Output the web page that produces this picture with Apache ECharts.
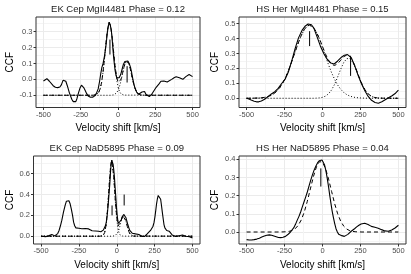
<!DOCTYPE html>
<html><head><meta charset="utf-8">
<script src="https://cdn.jsdelivr.net/npm/echarts@6/dist/echarts.min.js"></script>
<style>html,body{margin:0;padding:0;background:#fff}#c{width:411px;height:274px}</style>
</head><body><div id="c"></div>
<script>
// ---------- DATA ----------
const panelTitles = ["EK Cep MgII4481 Phase = 0.12","HS Her MgII4481 Phase = 0.15","EK Cep NaD5895 Phase = 0.09","HS Her NaD5895 Phase = 0.04"];
const xTitle = "Velocity shift [km/s]";
const yTitle = "CCF";
const velocityTicks = [-500,-250,0,250,500];
const velocityMinor = [-375,-125,125,375];
const yTicks1 = [-0.1,0.0,0.1,0.2,0.3];
const yMinor1 = [-0.15,-0.05,0.05,0.15,0.25,0.35];
const yTicks2 = [0.0,0.1,0.2,0.3,0.4,0.5];
const yMinor2 = [-0.05,0.05,0.15,0.25,0.35,0.45];
const yTicks3 = [0.0,0.2,0.4,0.6];
const yMinor3 = [0.1,0.3,0.5,0.7];
const yTicks4 = [0.0,0.1,0.2,0.3,0.4];
const yMinor4 = [-0.05,0.05,0.15,0.25,0.35];

// Panel 1: EK Cep MgII4481
const ekMgObserved = [[-500,-0.01],[-490,0.0],[-477,0.004],[-460,-0.012],[-450,-0.022],[-435,-0.04],[-420,-0.05],[-405,-0.052],[-390,-0.048],[-380,-0.035],[-368,-0.005],[-360,0.0],[-350,-0.012],[-340,-0.04],[-326,-0.085],[-310,-0.125],[-300,-0.14],[-292,-0.148],[-283,-0.14],[-275,-0.12],[-265,-0.085],[-255,-0.055],[-245,-0.037],[-238,-0.04],[-230,-0.052],[-220,-0.07],[-210,-0.09],[-200,-0.105],[-185,-0.113],[-170,-0.112],[-156,-0.104],[-145,-0.088],[-133,-0.06],[-124,-0.015],[-115,0.04],[-108,0.075],[-100,0.10],[-90,0.15],[-81,0.21],[-72,0.29],[-65,0.335],[-59,0.36],[-53,0.345],[-45,0.31],[-38,0.24],[-32,0.167],[-26,0.11],[-20,0.06],[-14,0.03],[-8,0.01],[0,0.004],[8,0.01],[18,0.03],[28,0.065],[36,0.094],[46,0.112],[56,0.12],[66,0.115],[75,0.1],[84,0.075],[92,0.04],[100,0.0],[108,-0.035],[115,-0.058],[125,-0.08],[138,-0.094],[150,-0.09],[161,-0.08],[170,-0.074],[178,-0.076],[188,-0.095],[198,-0.106],[210,-0.108],[225,-0.095],[240,-0.073],[256,-0.05],[274,-0.03],[288,-0.012],[296,-0.006],[308,-0.01],[319,-0.02],[330,-0.017],[342,-0.01],[360,0.0],[376,0.01],[390,0.016],[400,0.016],[412,0.01],[425,0.002],[435,0.0],[445,0.008],[455,0.017],[467,0.026],[477,0.03],[490,0.026],[500,0.017]];
const ekMgFitTotal = [[-500,-0.1],[-170,-0.1],[-160,-0.099],[-150,-0.098],[-140,-0.094],[-130,-0.083],[-120,-0.061],[-110,-0.019],[-100,0.048],[-90,0.137],[-80,0.234],[-70,0.315],[-60,0.356],[-50,0.337],[-40,0.271],[-30,0.178],[-20,0.087],[-10,0.020],[0,-0.017],[10,-0.021],[20,-0.001],[30,0.036],[40,0.077],[50,0.108],[60,0.12],[70,0.108],[80,0.076],[90,0.033],[100,-0.01],[110,-0.045],[120,-0.07],[130,-0.086],[140,-0.094],[150,-0.098],[160,-0.099],[170,-0.1],[500,-0.1]];
const ekMgComp1 = [[-500,-0.1],[-170,-0.1],[-160,-0.099],[-150,-0.098],[-140,-0.094],[-130,-0.083],[-120,-0.061],[-110,-0.019],[-100,0.048],[-90,0.137],[-80,0.234],[-70,0.315],[-60,0.356],[-50,0.337],[-40,0.27],[-30,0.176],[-20,0.081],[-10,0.005],[0,-0.047],[10,-0.076],[20,-0.091],[30,-0.097],[40,-0.099],[50,-0.1],[500,-0.1]];
const ekMgComp2 = [[-500,-0.1],[-50,-0.1],[-40,-0.099],[-30,-0.098],[-20,-0.094],[-10,-0.086],[0,-0.07],[10,-0.045],[20,-0.01],[30,0.033],[40,0.076],[50,0.108],[60,0.12],[70,0.108],[80,0.076],[90,0.033],[100,-0.01],[110,-0.045],[120,-0.07],[130,-0.086],[140,-0.094],[150,-0.098],[160,-0.099],[170,-0.1],[500,-0.1]];
const ekMgMarkers = [[[-54,0.156],[-54,0.25]],[[61,-0.02],[61,0.083]]];

// Panel 2: HS Her MgII4481
const hsMgObserved = [[-500,0.0],[-485,-0.005],[-470,-0.012],[-450,-0.02],[-435,-0.024],[-420,-0.024],[-403,-0.018],[-381,-0.007],[-359,0.011],[-337,0.029],[-314,0.044],[-292,0.066],[-269,0.099],[-247,0.126],[-225,0.176],[-202,0.253],[-180,0.335],[-158,0.405],[-135,0.455],[-113,0.485],[-95,0.498],[-85,0.5],[-73,0.493],[-57,0.47],[-35,0.41],[-12,0.345],[10,0.297],[32,0.26],[55,0.236],[77,0.23],[100,0.25],[122,0.273],[144,0.289],[165,0.293],[189,0.273],[211,0.222],[234,0.155],[256,0.099],[279,0.051],[301,0.012],[323,-0.014],[346,-0.028],[368,-0.033],[391,-0.024],[413,-0.01],[435,0.004],[458,0.017],[481,0.034],[500,0.055]];
const hsMgFitTotal = [[-500,0],[-460,0.0004],[-420,0.0018],[-400,0.0034],[-380,0.0063],[-360,0.0112],[-340,0.019],[-320,0.031],[-300,0.0486],[-280,0.073],[-260,0.106],[-240,0.147],[-220,0.197],[-200,0.253],[-180,0.312],[-160,0.370],[-140,0.421],[-120,0.461],[-100,0.485],[-85,0.49],[-60,0.475],[-40,0.444],[-20,0.3995],[0,0.347],[20,0.296],[40,0.254],[60,0.227],[80,0.220],[100,0.232],[120,0.255],[140,0.279],[160,0.290],[170,0.291],[180,0.281],[200,0.248],[220,0.200],[240,0.146],[260,0.095],[280,0.057],[300,0.030],[320,0.0145],[340,0.0063],[360,0.0025],[380,0.0009],[400,0.0003],[500,0]];
const hsMgComp1 = [[-500,0],[-460,0.0004],[-420,0.0018],[-400,0.0034],[-380,0.0063],[-360,0.0112],[-340,0.019],[-320,0.031],[-300,0.0486],[-280,0.073],[-260,0.106],[-240,0.147],[-220,0.197],[-200,0.253],[-180,0.312],[-160,0.370],[-140,0.421],[-120,0.461],[-100,0.485],[-85,0.49],[-60,0.475],[-40,0.443],[-20,0.397],[0,0.341],[20,0.282],[40,0.224],[60,0.171],[80,0.126],[100,0.0885],[120,0.060],[140,0.039],[160,0.0244],[180,0.0147],[200,0.0084],[220,0.0047],[240,0.0025],[260,0.0013],[300,0.0003],[500,0]];
const hsMgComp2 = [[-500,0],[-60,0],[-40,0.0009],[-20,0.0025],[0,0.0063],[20,0.0144],[40,0.030],[60,0.056],[80,0.094],[100,0.143],[120,0.195],[140,0.240],[160,0.266],[170,0.27],[180,0.266],[200,0.240],[220,0.195],[240,0.143],[260,0.094],[280,0.056],[300,0.030],[320,0.0144],[340,0.0063],[360,0.0025],[380,0.0009],[400,0],[500,0]];
const hsMgMarkers = [[[-85,0.35],[-85,0.45]],[[185,0.15],[185,0.285]]];

// Panel 3: EK Cep NaD5895
const ekNaObserved = [[-500,0.0],[-485,-0.003],[-470,-0.004],[-451,0.003],[-438,0.013],[-429,0.016],[-420,0.008],[-410,0.003],[-400,0.01],[-390,0.025],[-381,0.055],[-372,0.1],[-363,0.151],[-352,0.231],[-341,0.295],[-333,0.335],[-325,0.35],[-316,0.34],[-308,0.311],[-300,0.26],[-292,0.2],[-285,0.135],[-278,0.1],[-270,0.08],[-259,0.07],[-250,0.076],[-241,0.08],[-230,0.072],[-219,0.066],[-208,0.074],[-197,0.08],[-186,0.07],[-175,0.061],[-163,0.052],[-153,0.048],[-141,0.05],[-130,0.055],[-120,0.048],[-113,0.042],[-105,0.043],[-97,0.048],[-89,0.058],[-82,0.072],[-75,0.1],[-69,0.135],[-64,0.19],[-60,0.247],[-55,0.33],[-51,0.407],[-46,0.5],[-42,0.6],[-38,0.675],[-33,0.73],[-29,0.725],[-24,0.69],[-20,0.64],[-15,0.56],[-11,0.472],[-6,0.37],[-2,0.279],[3,0.2],[7,0.151],[11,0.122],[15,0.112],[20,0.115],[24,0.125],[30,0.158],[35,0.183],[40,0.2],[46,0.209],[53,0.2],[60,0.18],[66,0.15],[73,0.112],[80,0.08],[86,0.055],[94,0.038],[102,0.029],[113,0.025],[124,0.022],[135,0.02],[146,0.016],[157,0.008],[168,-0.003],[176,-0.005],[184,-0.003],[192,0.008],[201,0.022],[212,0.036],[223,0.055],[231,0.07],[239,0.093],[246,0.13],[252,0.183],[258,0.25],[263,0.311],[268,0.355],[274,0.391],[279,0.4],[285,0.385],[290,0.355],[296,0.29],[301,0.231],[307,0.165],[312,0.112],[318,0.08],[323,0.061],[330,0.055],[338,0.056],[346,0.048],[356,0.029],[366,0.012],[378,0.003],[390,-0.002],[400,-0.003],[412,0.005],[423,0.016],[434,0.012],[445,0.003],[456,-0.001],[467,-0.003],[480,-0.006],[490,-0.01],[500,-0.016]];
const ekNaFitTotal = [[-500,0],[-110,0],[-100,0.0015],[-90,0.008],[-80,0.034],[-70,0.110],[-60,0.266],[-50,0.489],[-40,0.682],[-33,0.73],[-30,0.722],[-20,0.579],[-10,0.356],[0,0.178],[10,0.099],[20,0.107],[30,0.154],[40,0.1945],[45,0.2],[50,0.194],[60,0.151],[70,0.092],[80,0.043],[90,0.016],[100,0.0046],[110,0.001],[120,0],[500,0]];
const ekNaComp1 = [[-500,0],[-110,0],[-100,0.0015],[-90,0.008],[-80,0.034],[-70,0.110],[-60,0.266],[-50,0.489],[-40,0.682],[-33,0.73],[-30,0.721],[-20,0.578],[-10,0.351],[0,0.162],[10,0.056],[20,0.015],[30,0.003],[40,0.0005],[50,0],[500,0]];
const ekNaComp2 = [[-500,0],[-30,0],[-20,0.001],[-10,0.0046],[0,0.016],[10,0.043],[20,0.092],[30,0.151],[40,0.194],[45,0.2],[50,0.194],[60,0.151],[70,0.092],[80,0.043],[90,0.016],[100,0.0046],[110,0.001],[120,0],[500,0]];
const ekNaMarkers = [[[-31,0.2],[-31,0.295]],[[49,0.295],[49,0.4]]];

// Panel 4: HS Her NaD5895
const hsNaObserved = [[-500,-0.042],[-483,-0.044],[-467,-0.044],[-450,-0.042],[-433,-0.039],[-416,-0.034],[-400,-0.028],[-383,-0.022],[-367,-0.018],[-350,-0.016],[-335,-0.018],[-320,-0.022],[-305,-0.026],[-290,-0.03],[-275,-0.031],[-260,-0.029],[-244,-0.024],[-228,-0.014],[-211,0.0],[-200,0.01],[-189,0.024],[-178,0.042],[-167,0.064],[-155,0.086],[-144,0.11],[-133,0.138],[-122,0.165],[-111,0.192],[-100,0.22],[-89,0.252],[-78,0.284],[-67,0.313],[-56,0.339],[-44,0.362],[-33,0.38],[-22,0.392],[-11,0.398],[-3,0.396],[4,0.39],[13,0.37],[22,0.339],[31,0.296],[40,0.248],[48,0.2],[56,0.156],[63,0.118],[71,0.083],[80,0.048],[89,0.018],[98,0.0],[107,-0.013],[117,-0.018],[127,-0.02],[135,-0.022],[144,-0.024],[155,-0.02],[167,-0.013],[178,-0.005],[189,0.004],[200,0.011],[211,0.018],[225,0.028],[240,0.037],[254,0.044],[267,0.048],[278,0.048],[289,0.046],[300,0.041],[311,0.035],[322,0.031],[333,0.028],[345,0.026],[356,0.024],[367,0.021],[378,0.018],[389,0.013],[400,0.009],[411,0.006],[422,0.004],[433,0.004],[444,0.007],[456,0.011],[467,0.017],[478,0.022],[489,0.029],[500,0.037]];
const hsNaFitTotal = [[-500,0],[-300,0],[-260,0.0005],[-240,0.0014],[-220,0.0036],[-200,0.0085],[-180,0.018],[-160,0.0365],[-140,0.066],[-120,0.110],[-100,0.169],[-80,0.237],[-60,0.304],[-40,0.358],[-20,0.387],[-12,0.39],[0,0.384],[20,0.349],[40,0.291],[60,0.223],[80,0.156],[100,0.100],[120,0.059],[140,0.032],[160,0.016],[180,0.0072],[200,0.003],[220,0.0012],[240,0.0004],[260,0],[500,0]];
const hsNaMarkers = [[[-11,0.25],[-11,0.35]]];

// ---------- LAYOUT ----------
const FONT = '"Liberation Sans", Arial, sans-serif';
const panels = [
  {left:36, top:17, width:164, height:90.5, yMin:-0.177, yMax:0.392, yTicks:yTicks1, yMinor:yMinor1, yGap:21,
   obs:ekMgObserved, fit:ekMgFitTotal, comps:[ekMgComp1, ekMgComp2], markers:ekMgMarkers},
  {left:239, top:17, width:167, height:90.5, yMin:-0.062, yMax:0.545, yTicks:yTicks2, yMinor:yMinor2, yGap:19,
   obs:hsMgObserved, fit:hsMgFitTotal, comps:[hsMgComp1, hsMgComp2], markers:hsMgMarkers},
  {left:33.5, top:156, width:166.5, height:88, yMin:-0.075, yMax:0.77, yTicks:yTicks3, yMinor:yMinor3, yGap:18.5,
   obs:ekNaObserved, fit:ekNaFitTotal, comps:[ekNaComp1, ekNaComp2], markers:ekNaMarkers},
  {left:239, top:156, width:167, height:88, yMin:-0.066, yMax:0.418, yTicks:yTicks4, yMinor:yMinor4, yGap:19,
   obs:hsNaObserved, fit:hsNaFitTotal, comps:[], markers:hsNaMarkers}
];

const grid = [], xAxis = [], yAxis = [], series = [], title = [];
const tickLabel = {fontSize:7.5, color:'#4D4D4D', fontFamily:FONT};
panels.forEach((p, i) => {
  grid.push({left:p.left, top:p.top, width:p.width, height:p.height, show:true,
             borderColor:'#333333', borderWidth:1, backgroundColor:'rgba(0,0,0,0)', z:5});
  title.push({text:panelTitles[i], left:p.left + p.width/2, top:p.top - 13, textAlign:'center', padding:0,
              textStyle:{fontSize:9.5, fontWeight:'normal', color:'#1a1a1a', fontFamily:FONT}});
  // main axes
  xAxis.push({gridIndex:i, type:'value', min:-550, max:550, position:'bottom',
    axisLine:{show:false, onZero:false},
    axisTick:{show:true, customValues:velocityTicks, length:2.5, lineStyle:{color:'#333333', width:1}},
    axisLabel:{customValues:velocityTicks, margin:3, ...tickLabel, formatter:v => String(v)},
    splitLine:{show:true, lineStyle:{color:'#EBEBEB', width:1}},
    name:xTitle, nameLocation:'middle', nameGap:16,
    nameTextStyle:{fontSize:10, color:'#000', fontFamily:FONT}});
  yAxis.push({gridIndex:i, type:'value', min:p.yMin, max:p.yMax, position:'left',
    axisLine:{show:false, onZero:false},
    axisTick:{show:true, customValues:p.yTicks, length:2.5, lineStyle:{color:'#333333', width:1}},
    axisLabel:{customValues:p.yTicks, margin:3.5, ...tickLabel, formatter:v => v.toFixed(1)},
    splitLine:{show:true, lineStyle:{color:'#EBEBEB', width:1}},
    name:yTitle, nameLocation:'middle', nameGap:p.yGap, nameRotate:90,
    nameTextStyle:{fontSize:10, color:'#000', fontFamily:FONT}});
  // minor grid axes
  xAxis.push({gridIndex:i, type:'value', min:-550, max:550, position:'bottom',
    axisLine:{show:false, onZero:false}, axisTick:{show:false, customValues:velocityMinor},
    axisLabel:{show:false, customValues:velocityMinor},
    splitLine:{show:true, lineStyle:{color:'#F4F4F4', width:1}}});
  yAxis.push({gridIndex:i, type:'value', min:p.yMin, max:p.yMax, position:'left',
    axisLine:{show:false, onZero:false}, axisTick:{show:false, customValues:p.yMinor},
    axisLabel:{show:false, customValues:p.yMinor},
    splitLine:{show:true, lineStyle:{color:'#F4F4F4', width:1}}});
  const xi = 2*i, yi = 2*i;
  const base = {type:'line', xAxisIndex:xi, yAxisIndex:yi, showSymbol:false, symbol:'none',
                animation:false, silent:true, z:3};
  p.comps.forEach(c => series.push({...base, data:c, lineStyle:{color:'#000', width:1, type:[1,2]}}));
  series.push({...base, data:p.fit, lineStyle:{color:'#000', width:1, type:[4,3]}});
  series.push({...base, data:p.obs, lineStyle:{color:'#000', width:1.1}});
  p.markers.forEach(m => series.push({...base, data:m, lineStyle:{color:'#000', width:1}}));
});

const chart = echarts.init(document.getElementById('c'), null, {renderer:'canvas'});
chart.setOption({animation:false, backgroundColor:'#fff', title, grid, xAxis, yAxis, series});
</script></body></html>
